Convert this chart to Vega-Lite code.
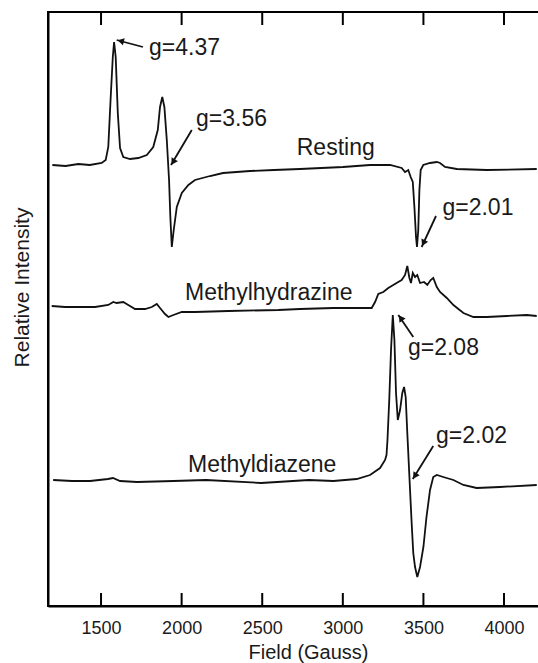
{
"$schema": "https://vega.github.io/schema/vega-lite/v6.json",
"width": 491,
"height": 594,
"autosize": "none",
"padding": {"left": 48, "top": 12, "right": 0, "bottom": 57},
"background": "white",
"config": {
  "view": {"stroke": "black", "strokeWidth": 2},
  "font": "Liberation Sans"
},
"layer": [
  {
    "data": {"values": [
      {"tick": 1500}, {"tick": 2000}, {"tick": 2500}, {"tick": 3000}, {"tick": 3500}, {"tick": 4000}
    ]},
    "mark": {"type": "rule", "color": "black", "strokeWidth": 2},
    "encoding": {
      "x": {"field": "tick", "type": "quantitative", "scale": {"domain": [1171, 4217], "nice": false, "zero": false},
        "axis": {"orient": "bottom", "values": [1500, 2000, 2500, 3000, 3500, 4000], "format": "d", "domain": true, "domainColor": "black", "domainWidth": 2, "ticks": false, "grid": false, "labelPadding": 13, "labelFontSize": 18, "labelColor": "#1a1a1a", "labelFont": "Liberation Sans", "title": "Field (Gauss)", "titleFont": "Liberation Sans", "titleFontWeight": "normal", "titleColor": "#1a1a1a", "titleFontSize": 20, "titleX": 260, "titleY": 36, "titleBaseline": "top"}},
      "y": {"datum": 0, "type": "quantitative", "scale": {"domain": [0, 594], "nice": false, "zero": false},
        "axis": {"domain": true, "domainColor": "black", "domainWidth": 2, "ticks": false, "labels": false, "grid": false, "title": "Relative Intensity", "titleFont": "Liberation Sans", "titleFontWeight": "normal", "titleColor": "#1a1a1a", "titleFontSize": 21, "titleX": -16, "titleY": 275}},
      "y2": {"datum": 13}
    }
  },
  {
    "data": {"values": [
      {"tick": 1500}, {"tick": 2000}, {"tick": 2500}, {"tick": 3000}, {"tick": 3500}, {"tick": 4000}
    ]},
    "mark": {"type": "rule", "color": "black", "strokeWidth": 2},
    "encoding": {
      "x": {"field": "tick", "type": "quantitative", "scale": {"domain": [1171, 4217], "nice": false, "zero": false},
        "axis": {"orient": "bottom", "values": [1500, 2000, 2500, 3000, 3500, 4000], "format": "d", "domain": true, "domainColor": "black", "domainWidth": 2, "ticks": false, "grid": false, "labelPadding": 13, "labelFontSize": 18, "labelColor": "#1a1a1a", "labelFont": "Liberation Sans", "title": "Field (Gauss)", "titleFont": "Liberation Sans", "titleFontWeight": "normal", "titleColor": "#1a1a1a", "titleFontSize": 20, "titleX": 260, "titleY": 36, "titleBaseline": "top"}},
      "y": {"datum": 594, "type": "quantitative", "scale": {"domain": [0, 594], "nice": false, "zero": false},
        "axis": {"domain": true, "domainColor": "black", "domainWidth": 2, "ticks": false, "labels": false, "grid": false, "title": "Relative Intensity", "titleFont": "Liberation Sans", "titleFontWeight": "normal", "titleColor": "#1a1a1a", "titleFontSize": 21, "titleX": -16, "titleY": 275}},
      "y2": {"datum": 581}
    }
  },
  {
    "data": {"values": [{"from": 1171, "to": 4217, "level": 594}]},
    "mark": {"type": "rule", "color": "black", "strokeWidth": 2},
    "encoding": {
      "x": {"field": "from", "type": "quantitative", "scale": {"domain": [1171, 4217], "nice": false, "zero": false},
        "axis": {"orient": "bottom", "values": [1500, 2000, 2500, 3000, 3500, 4000], "format": "d", "domain": true, "domainColor": "black", "domainWidth": 2, "ticks": false, "grid": false, "labelPadding": 13, "labelFontSize": 18, "labelColor": "#1a1a1a", "labelFont": "Liberation Sans", "title": "Field (Gauss)", "titleFont": "Liberation Sans", "titleFontWeight": "normal", "titleColor": "#1a1a1a", "titleFontSize": 20, "titleX": 260, "titleY": 36, "titleBaseline": "top"}},
      "x2": {"field": "to"},
      "y": {"field": "level", "type": "quantitative", "scale": {"domain": [0, 594], "nice": false, "zero": false},
        "axis": {"domain": true, "domainColor": "black", "domainWidth": 2, "ticks": false, "labels": false, "grid": false, "title": "Relative Intensity", "titleFont": "Liberation Sans", "titleFontWeight": "normal", "titleColor": "#1a1a1a", "titleFontSize": 21, "titleX": -16, "titleY": 275}}
    }
  },
  {
    "data": {"values": [
    {"sample": "Resting", "field": 1198, "intensity": 441},
    {"sample": "Resting", "field": 1280, "intensity": 440},
    {"sample": "Resting", "field": 1359, "intensity": 442},
    {"sample": "Resting", "field": 1430, "intensity": 441},
    {"sample": "Resting", "field": 1504, "intensity": 443},
    {"sample": "Resting", "field": 1529, "intensity": 446},
    {"sample": "Resting", "field": 1545, "intensity": 459},
    {"sample": "Resting", "field": 1560, "intensity": 509},
    {"sample": "Resting", "field": 1573, "intensity": 549},
    {"sample": "Resting", "field": 1581, "intensity": 564},
    {"sample": "Resting", "field": 1591, "intensity": 549},
    {"sample": "Resting", "field": 1604, "intensity": 493},
    {"sample": "Resting", "field": 1618, "intensity": 458},
    {"sample": "Resting", "field": 1638, "intensity": 449},
    {"sample": "Resting", "field": 1680, "intensity": 447},
    {"sample": "Resting", "field": 1731, "intensity": 448},
    {"sample": "Resting", "field": 1784, "intensity": 451},
    {"sample": "Resting", "field": 1824, "intensity": 459},
    {"sample": "Resting", "field": 1852, "intensity": 476},
    {"sample": "Resting", "field": 1866, "intensity": 499},
    {"sample": "Resting", "field": 1880, "intensity": 509},
    {"sample": "Resting", "field": 1893, "intensity": 499},
    {"sample": "Resting", "field": 1908, "intensity": 466},
    {"sample": "Resting", "field": 1922, "intensity": 426},
    {"sample": "Resting", "field": 1930, "intensity": 389},
    {"sample": "Resting", "field": 1939, "intensity": 359},
    {"sample": "Resting", "field": 1951, "intensity": 376},
    {"sample": "Resting", "field": 1970, "intensity": 399},
    {"sample": "Resting", "field": 2001, "intensity": 413},
    {"sample": "Resting", "field": 2042, "intensity": 421},
    {"sample": "Resting", "field": 2083, "intensity": 426},
    {"sample": "Resting", "field": 2176, "intensity": 430},
    {"sample": "Resting", "field": 2257, "intensity": 433},
    {"sample": "Resting", "field": 2424, "intensity": 435},
    {"sample": "Resting", "field": 2573, "intensity": 436},
    {"sample": "Resting", "field": 2734, "intensity": 437},
    {"sample": "Resting", "field": 3001, "intensity": 439},
    {"sample": "Resting", "field": 3169, "intensity": 441},
    {"sample": "Resting", "field": 3293, "intensity": 441},
    {"sample": "Resting", "field": 3365, "intensity": 438},
    {"sample": "Resting", "field": 3386, "intensity": 434},
    {"sample": "Resting", "field": 3406, "intensity": 436},
    {"sample": "Resting", "field": 3421, "intensity": 429},
    {"sample": "Resting", "field": 3434, "intensity": 424},
    {"sample": "Resting", "field": 3444, "intensity": 399},
    {"sample": "Resting", "field": 3454, "intensity": 369},
    {"sample": "Resting", "field": 3460, "intensity": 359},
    {"sample": "Resting", "field": 3468, "intensity": 376},
    {"sample": "Resting", "field": 3475, "intensity": 416},
    {"sample": "Resting", "field": 3483, "intensity": 436},
    {"sample": "Resting", "field": 3499, "intensity": 441},
    {"sample": "Resting", "field": 3541, "intensity": 443},
    {"sample": "Resting", "field": 3583, "intensity": 444},
    {"sample": "Resting", "field": 3603, "intensity": 443},
    {"sample": "Resting", "field": 3634, "intensity": 439},
    {"sample": "Resting", "field": 3707, "intensity": 437},
    {"sample": "Resting", "field": 3893, "intensity": 436},
    {"sample": "Resting", "field": 4203, "intensity": 437},
    {"sample": "Methylhydrazine", "field": 1194, "intensity": 300},
    {"sample": "Methylhydrazine", "field": 1277, "intensity": 299},
    {"sample": "Methylhydrazine", "field": 1359, "intensity": 299},
    {"sample": "Methylhydrazine", "field": 1463, "intensity": 299},
    {"sample": "Methylhydrazine", "field": 1545, "intensity": 301},
    {"sample": "Methylhydrazine", "field": 1576, "intensity": 304},
    {"sample": "Methylhydrazine", "field": 1597, "intensity": 303},
    {"sample": "Methylhydrazine", "field": 1638, "intensity": 304},
    {"sample": "Methylhydrazine", "field": 1669, "intensity": 301},
    {"sample": "Methylhydrazine", "field": 1711, "intensity": 297},
    {"sample": "Methylhydrazine", "field": 1773, "intensity": 297},
    {"sample": "Methylhydrazine", "field": 1815, "intensity": 299},
    {"sample": "Methylhydrazine", "field": 1846, "intensity": 302},
    {"sample": "Methylhydrazine", "field": 1866, "intensity": 298},
    {"sample": "Methylhydrazine", "field": 1897, "intensity": 292},
    {"sample": "Methylhydrazine", "field": 1918, "intensity": 289},
    {"sample": "Methylhydrazine", "field": 1949, "intensity": 291},
    {"sample": "Methylhydrazine", "field": 2001, "intensity": 294},
    {"sample": "Methylhydrazine", "field": 2083, "intensity": 294},
    {"sample": "Methylhydrazine", "field": 2290, "intensity": 295},
    {"sample": "Methylhydrazine", "field": 2600, "intensity": 296},
    {"sample": "Methylhydrazine", "field": 2734, "intensity": 297},
    {"sample": "Methylhydrazine", "field": 2941, "intensity": 298},
    {"sample": "Methylhydrazine", "field": 3179, "intensity": 298},
    {"sample": "Methylhydrazine", "field": 3200, "intensity": 304},
    {"sample": "Methylhydrazine", "field": 3220, "intensity": 312},
    {"sample": "Methylhydrazine", "field": 3251, "intensity": 314},
    {"sample": "Methylhydrazine", "field": 3282, "intensity": 318},
    {"sample": "Methylhydrazine", "field": 3313, "intensity": 321},
    {"sample": "Methylhydrazine", "field": 3344, "intensity": 324},
    {"sample": "Methylhydrazine", "field": 3365, "intensity": 326},
    {"sample": "Methylhydrazine", "field": 3386, "intensity": 331},
    {"sample": "Methylhydrazine", "field": 3400, "intensity": 340},
    {"sample": "Methylhydrazine", "field": 3413, "intensity": 328},
    {"sample": "Methylhydrazine", "field": 3423, "intensity": 323},
    {"sample": "Methylhydrazine", "field": 3434, "intensity": 333},
    {"sample": "Methylhydrazine", "field": 3448, "intensity": 329},
    {"sample": "Methylhydrazine", "field": 3462, "intensity": 331},
    {"sample": "Methylhydrazine", "field": 3479, "intensity": 323},
    {"sample": "Methylhydrazine", "field": 3504, "intensity": 324},
    {"sample": "Methylhydrazine", "field": 3524, "intensity": 321},
    {"sample": "Methylhydrazine", "field": 3545, "intensity": 326},
    {"sample": "Methylhydrazine", "field": 3561, "intensity": 328},
    {"sample": "Methylhydrazine", "field": 3583, "intensity": 319},
    {"sample": "Methylhydrazine", "field": 3603, "intensity": 314},
    {"sample": "Methylhydrazine", "field": 3645, "intensity": 308},
    {"sample": "Methylhydrazine", "field": 3686, "intensity": 301},
    {"sample": "Methylhydrazine", "field": 3748, "intensity": 293},
    {"sample": "Methylhydrazine", "field": 3810, "intensity": 289},
    {"sample": "Methylhydrazine", "field": 3893, "intensity": 289},
    {"sample": "Methylhydrazine", "field": 4017, "intensity": 290},
    {"sample": "Methylhydrazine", "field": 4141, "intensity": 291},
    {"sample": "Methylhydrazine", "field": 4203, "intensity": 290},
    {"sample": "Methyldiazene", "field": 1203, "intensity": 126},
    {"sample": "Methyldiazene", "field": 1320, "intensity": 125},
    {"sample": "Methyldiazene", "field": 1432, "intensity": 125},
    {"sample": "Methyldiazene", "field": 1543, "intensity": 127},
    {"sample": "Methyldiazene", "field": 1574, "intensity": 128},
    {"sample": "Methyldiazene", "field": 1618, "intensity": 125},
    {"sample": "Methyldiazene", "field": 1723, "intensity": 124},
    {"sample": "Methyldiazene", "field": 1950, "intensity": 125},
    {"sample": "Methyldiazene", "field": 2151, "intensity": 126},
    {"sample": "Methyldiazene", "field": 2493, "intensity": 123},
    {"sample": "Methyldiazene", "field": 2790, "intensity": 126},
    {"sample": "Methyldiazene", "field": 2941, "intensity": 125},
    {"sample": "Methyldiazene", "field": 3086, "intensity": 127},
    {"sample": "Methyldiazene", "field": 3169, "intensity": 131},
    {"sample": "Methyldiazene", "field": 3231, "intensity": 138},
    {"sample": "Methyldiazene", "field": 3262, "intensity": 146},
    {"sample": "Methyldiazene", "field": 3271, "intensity": 151},
    {"sample": "Methyldiazene", "field": 3277, "intensity": 166},
    {"sample": "Methyldiazene", "field": 3288, "intensity": 206},
    {"sample": "Methyldiazene", "field": 3299, "intensity": 256},
    {"sample": "Methyldiazene", "field": 3310, "intensity": 291},
    {"sample": "Methyldiazene", "field": 3320, "intensity": 266},
    {"sample": "Methyldiazene", "field": 3330, "intensity": 213},
    {"sample": "Methyldiazene", "field": 3341, "intensity": 186},
    {"sample": "Methyldiazene", "field": 3355, "intensity": 196},
    {"sample": "Methyldiazene", "field": 3369, "intensity": 213},
    {"sample": "Methyldiazene", "field": 3380, "intensity": 219},
    {"sample": "Methyldiazene", "field": 3390, "intensity": 209},
    {"sample": "Methyldiazene", "field": 3400, "intensity": 173},
    {"sample": "Methyldiazene", "field": 3406, "intensity": 153},
    {"sample": "Methyldiazene", "field": 3417, "intensity": 116},
    {"sample": "Methyldiazene", "field": 3427, "intensity": 83},
    {"sample": "Methyldiazene", "field": 3437, "intensity": 53},
    {"sample": "Methyldiazene", "field": 3448, "intensity": 39},
    {"sample": "Methyldiazene", "field": 3462, "intensity": 29},
    {"sample": "Methyldiazene", "field": 3479, "intensity": 39},
    {"sample": "Methyldiazene", "field": 3500, "intensity": 59},
    {"sample": "Methyldiazene", "field": 3519, "intensity": 89},
    {"sample": "Methyldiazene", "field": 3541, "intensity": 116},
    {"sample": "Methyldiazene", "field": 3561, "intensity": 129},
    {"sample": "Methyldiazene", "field": 3583, "intensity": 131},
    {"sample": "Methyldiazene", "field": 3623, "intensity": 129},
    {"sample": "Methyldiazene", "field": 3686, "intensity": 126},
    {"sample": "Methyldiazene", "field": 3748, "intensity": 121},
    {"sample": "Methyldiazene", "field": 3830, "intensity": 118},
    {"sample": "Methyldiazene", "field": 3975, "intensity": 119},
    {"sample": "Methyldiazene", "field": 4203, "intensity": 121}
    ]},
    "mark": {"type": "line", "color": "#111111", "strokeWidth": 1.8},
    "encoding": {
      "x": {"field": "field", "type": "quantitative", "scale": {"domain": [1171, 4217], "nice": false, "zero": false},
        "axis": {"orient": "bottom", "values": [1500, 2000, 2500, 3000, 3500, 4000], "format": "d", "domain": true, "domainColor": "black", "domainWidth": 2, "ticks": false, "grid": false, "labelPadding": 13, "labelFontSize": 18, "labelColor": "#1a1a1a", "labelFont": "Liberation Sans", "title": "Field (Gauss)", "titleFont": "Liberation Sans", "titleFontWeight": "normal", "titleColor": "#1a1a1a", "titleFontSize": 20, "titleX": 260, "titleY": 36, "titleBaseline": "top"}},
      "y": {"field": "intensity", "type": "quantitative", "scale": {"domain": [0, 594], "nice": false, "zero": false},
        "axis": {"domain": true, "domainColor": "black", "domainWidth": 2, "ticks": false, "labels": false, "grid": false, "title": "Relative Intensity", "titleFont": "Liberation Sans", "titleFontWeight": "normal", "titleColor": "#1a1a1a", "titleFontSize": 21, "titleX": -16, "titleY": 275}},
      "detail": {"field": "sample"}
    }
  },
  {
    "data": {"values": [
      {"x1": 1760, "y1": 559, "x2": 1597, "y2": 566},
      {"x1": 2063, "y1": 476, "x2": 1934, "y2": 441},
      {"x1": 3578, "y1": 390, "x2": 3489, "y2": 359},
      {"x1": 3437, "y1": 269, "x2": 3344, "y2": 291},
      {"x1": 3561, "y1": 160, "x2": 3434, "y2": 127}
    ]},
    "mark": {"type": "rule", "color": "#111111", "strokeWidth": 1.8},
    "encoding": {
      "x": {"field": "x1", "type": "quantitative", "scale": {"domain": [1171, 4217], "nice": false, "zero": false},
        "axis": {"orient": "bottom", "values": [1500, 2000, 2500, 3000, 3500, 4000], "format": "d", "domain": true, "domainColor": "black", "domainWidth": 2, "ticks": false, "grid": false, "labelPadding": 13, "labelFontSize": 18, "labelColor": "#1a1a1a", "labelFont": "Liberation Sans", "title": "Field (Gauss)", "titleFont": "Liberation Sans", "titleFontWeight": "normal", "titleColor": "#1a1a1a", "titleFontSize": 20, "titleX": 260, "titleY": 36, "titleBaseline": "top"}},
      "x2": {"field": "x2"},
      "y": {"field": "y1", "type": "quantitative", "scale": {"domain": [0, 594], "nice": false, "zero": false},
        "axis": {"domain": true, "domainColor": "black", "domainWidth": 2, "ticks": false, "labels": false, "grid": false, "title": "Relative Intensity", "titleFont": "Liberation Sans", "titleFontWeight": "normal", "titleColor": "#1a1a1a", "titleFontSize": 21, "titleX": -16, "titleY": 275}},
      "y2": {"field": "y2"}
    }
  },
  {
    "data": {"values": [
      {"hx": 1622, "hy": 565, "angle": 284},
      {"hx": 1947, "hy": 444, "angle": 211},
      {"hx": 3500, "hy": 363, "angle": 205},
      {"hx": 3359, "hy": 288, "angle": 325},
      {"hx": 3447, "hy": 130, "angle": 212}
    ]},
    "mark": {"type": "point", "shape": "triangle-up", "filled": true, "color": "#111111", "size": 55, "opacity": 1},
    "encoding": {
      "x": {"field": "hx", "type": "quantitative", "scale": {"domain": [1171, 4217], "nice": false, "zero": false},
        "axis": {"orient": "bottom", "values": [1500, 2000, 2500, 3000, 3500, 4000], "format": "d", "domain": true, "domainColor": "black", "domainWidth": 2, "ticks": false, "grid": false, "labelPadding": 13, "labelFontSize": 18, "labelColor": "#1a1a1a", "labelFont": "Liberation Sans", "title": "Field (Gauss)", "titleFont": "Liberation Sans", "titleFontWeight": "normal", "titleColor": "#1a1a1a", "titleFontSize": 20, "titleX": 260, "titleY": 36, "titleBaseline": "top"}},
      "y": {"field": "hy", "type": "quantitative", "scale": {"domain": [0, 594], "nice": false, "zero": false},
        "axis": {"domain": true, "domainColor": "black", "domainWidth": 2, "ticks": false, "labels": false, "grid": false, "title": "Relative Intensity", "titleFont": "Liberation Sans", "titleFontWeight": "normal", "titleColor": "#1a1a1a", "titleFontSize": 21, "titleX": -16, "titleY": 275}},
      "angle": {"field": "angle", "type": "quantitative", "scale": null}
    }
  },
  {
    "data": {"values": [
      {"text": "g=4.37", "x": 1798, "y": 551},
      {"text": "g=3.56", "x": 2089, "y": 480},
      {"text": "Resting", "x": 2714, "y": 451},
      {"text": "g=2.01", "x": 3618, "y": 391},
      {"text": "Methylhydrazine", "x": 2021, "y": 306},
      {"text": "g=2.08", "x": 3404, "y": 251},
      {"text": "g=2.02", "x": 3578, "y": 163},
      {"text": "Methyldiazene", "x": 2040, "y": 134}
    ]},
    "mark": {"type": "text", "align": "left", "baseline": "alphabetic", "fontSize": 23, "color": "#1a1a1a", "font": "Liberation Sans"},
    "encoding": {
      "x": {"field": "x", "type": "quantitative", "scale": {"domain": [1171, 4217], "nice": false, "zero": false},
        "axis": {"orient": "bottom", "values": [1500, 2000, 2500, 3000, 3500, 4000], "format": "d", "domain": true, "domainColor": "black", "domainWidth": 2, "ticks": false, "grid": false, "labelPadding": 13, "labelFontSize": 18, "labelColor": "#1a1a1a", "labelFont": "Liberation Sans", "title": "Field (Gauss)", "titleFont": "Liberation Sans", "titleFontWeight": "normal", "titleColor": "#1a1a1a", "titleFontSize": 20, "titleX": 260, "titleY": 36, "titleBaseline": "top"}},
      "y": {"field": "y", "type": "quantitative", "scale": {"domain": [0, 594], "nice": false, "zero": false},
        "axis": {"domain": true, "domainColor": "black", "domainWidth": 2, "ticks": false, "labels": false, "grid": false, "title": "Relative Intensity", "titleFont": "Liberation Sans", "titleFontWeight": "normal", "titleColor": "#1a1a1a", "titleFontSize": 21, "titleX": -16, "titleY": 275}},
      "text": {"field": "text"}
    }
  }
]
}
